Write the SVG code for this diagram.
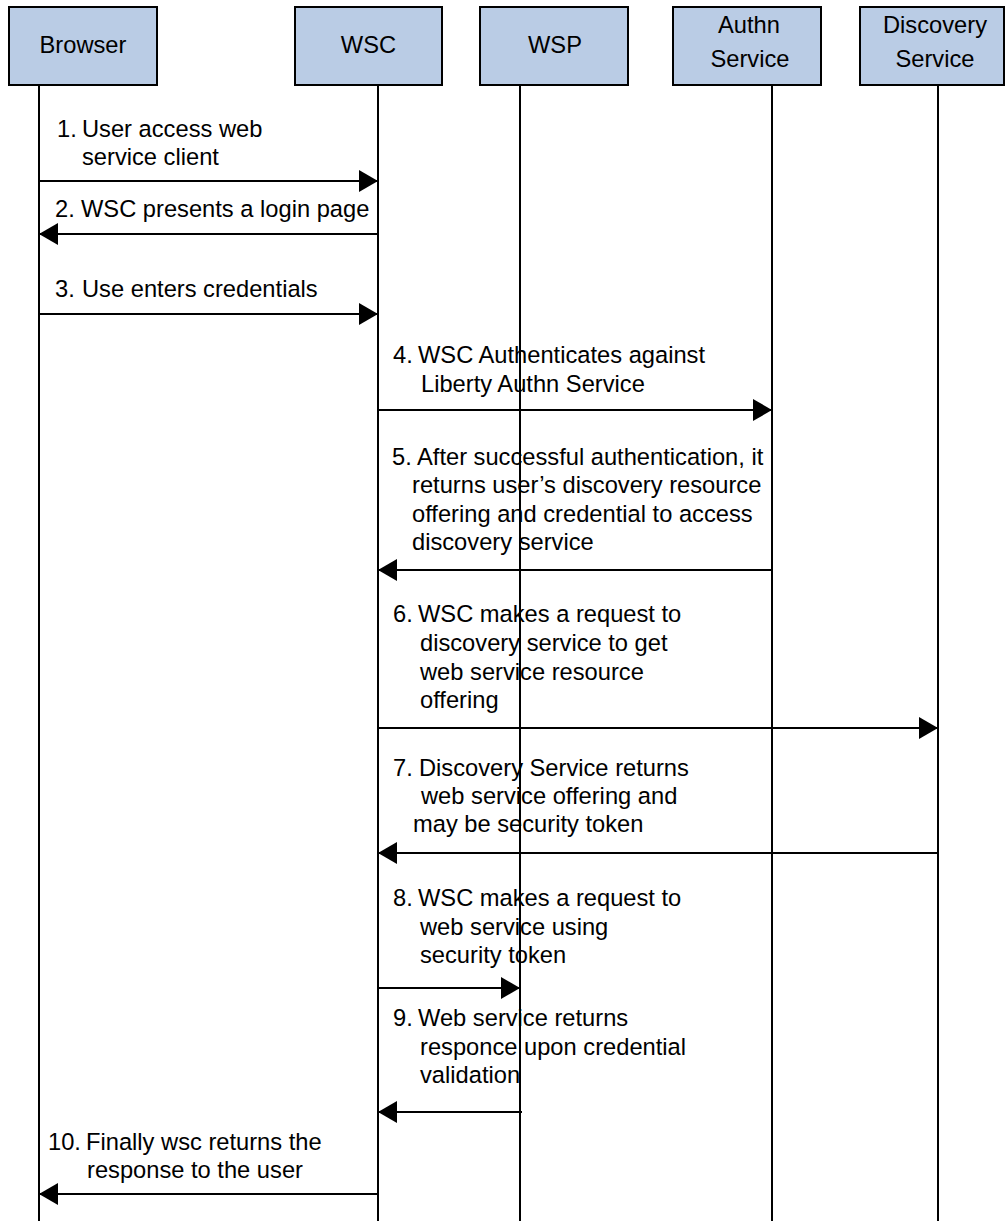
<svg xmlns="http://www.w3.org/2000/svg" width="1005" height="1221" viewBox="0 0 1005 1221">
<style>
.box{fill:#bacce5;stroke:#000;stroke-width:2}
.life{stroke:#000;stroke-width:2;fill:none}
.msg{stroke:#000;stroke-width:2;fill:none;marker-end:url(#ah)}
text{font-family:"Liberation Sans",Arial,Helvetica,sans-serif;font-size:23.7px;fill:#000}
.c{text-anchor:middle}
</style>
<defs>
<marker id="ah" markerUnits="userSpaceOnUse" markerWidth="20" markerHeight="22" refX="19" refY="11" orient="auto">
<path d="M0,0 L19,11 L0,22 Z" fill="#000"/>
</marker>
</defs>
<rect width="1005" height="1221" fill="#fff"/>
<g id="lifelines">
<line class="life" x1="39" y1="85" x2="39" y2="1221"/>
<line class="life" x1="378" y1="85" x2="378" y2="1221"/>
<line class="life" x1="520" y1="85" x2="520" y2="1221"/>
<line class="life" x1="772" y1="85" x2="772" y2="1221"/>
<line class="life" x1="938" y1="85" x2="938" y2="1221"/>
</g>
<g id="browser"><rect class="box" x="9" y="7" width="148" height="78"/><text class="c" x="83" y="53">Browser</text></g>
<g id="wsc"><rect class="box" x="295" y="7" width="147" height="78"/><text class="c" x="368.5" y="53">WSC</text></g>
<g id="wsp"><rect class="box" x="480" y="7" width="148" height="78"/><text class="c" x="555" y="53">WSP</text></g>
<g id="authn"><rect class="box" x="673" y="7" width="148" height="78"/><text class="c" x="749" y="33">Authn</text><text class="c" x="750" y="67">Service</text></g>
<g id="discovery"><rect class="box" x="860" y="7" width="144" height="78"/><text class="c" x="935" y="33">Discovery</text><text class="c" x="935" y="67">Service</text></g>
<g id="connectors">
<line class="msg" x1="39" y1="181" x2="378" y2="181"/>
<line class="msg" x1="378" y1="234" x2="39" y2="234"/>
<line class="msg" x1="39" y1="314" x2="378" y2="314"/>
<line class="msg" x1="378" y1="410" x2="772" y2="410"/>
<line class="msg" x1="772" y1="570" x2="378" y2="570"/>
<line class="msg" x1="378" y1="728" x2="938" y2="728"/>
<line class="msg" x1="938" y1="853" x2="378" y2="853"/>
<line class="msg" x1="378" y1="988" x2="520" y2="988"/>
<line class="msg" x1="522" y1="1112" x2="378" y2="1112"/>
<line class="msg" x1="378" y1="1194" x2="39" y2="1194"/>
</g>
<g id="labels">
<text x="57" y="137">1.</text><text x="82" y="137">User access web</text><text x="82" y="165">service client</text>
<text x="55" y="217">2.</text><text x="81" y="217">WSC presents a login page</text>
<text x="55" y="297">3.</text><text x="82" y="297">Use enters credentials</text>
<text x="393" y="363">4.</text><text x="418" y="363">WSC Authenticates against</text><text x="421" y="392">Liberty Authn Service</text>
<text x="392" y="465">5.</text><text x="417" y="465">After successful authentication, it</text><text x="412" y="493">returns user’s discovery resource</text><text x="412" y="522">offering and credential to access</text><text x="412" y="550">discovery service</text>
<text x="393" y="622">6.</text><text x="418" y="622">WSC makes a request to</text><text x="420" y="651">discovery service to get</text><text x="420" y="680">web service resource</text><text x="420" y="708">offering</text>
<text x="393" y="776">7.</text><text x="419" y="776">Discovery Service returns</text><text x="421" y="804">web service offering and</text><text x="413" y="832">may be security token</text>
<text x="393" y="906">8.</text><text x="418" y="906">WSC makes a request to</text><text x="420" y="935">web service using</text><text x="420" y="963">security token</text>
<text x="393" y="1026">9.</text><text x="418" y="1026">Web service returns</text><text x="420" y="1055">responce upon credential</text><text x="420" y="1083">validation</text>
<text x="48" y="1150">10.</text><text x="86" y="1150">Finally wsc returns the</text><text x="87" y="1178">response to the user</text>
</g>
</svg>
